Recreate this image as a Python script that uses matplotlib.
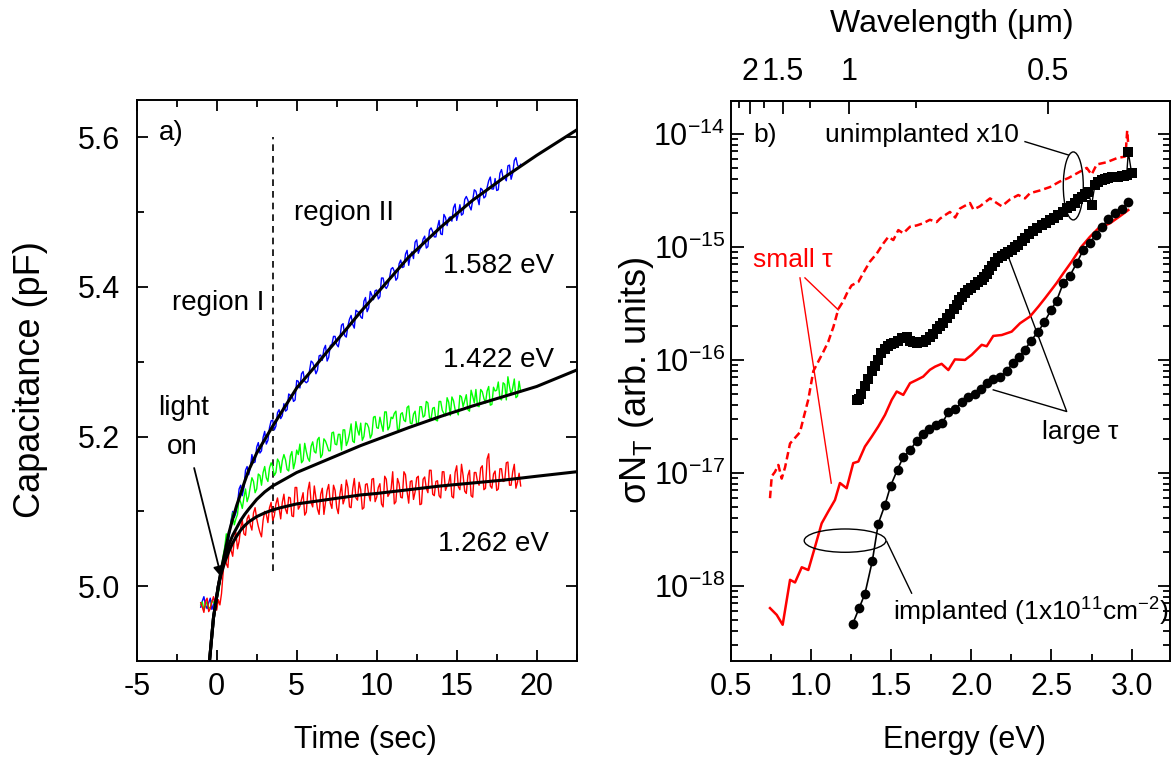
import numpy as np
import matplotlib
matplotlib.use("Agg")
import matplotlib.pyplot as plt
from matplotlib.patches import Ellipse
from matplotlib.ticker import MultipleLocator, FixedLocator, LogLocator, NullFormatter, FixedFormatter

plt.rcParams['font.family'] = ['Liberation Sans', 'DejaVu Sans']
plt.rcParams['mathtext.fontset'] = 'custom'
plt.rcParams['mathtext.rm'] = 'Liberation Sans'
plt.rcParams['mathtext.it'] = 'Liberation Sans:italic'
plt.rcParams['mathtext.bf'] = 'Liberation Sans:bold'
plt.rcParams['axes.unicode_minus'] = False

# ---------------- panel a) capacitance transients ----------------
t_start, t_step = -1.0, 0.1
cap_1582 = [4.972, 4.980, 4.986, 4.975, 4.970, 4.978, 4.984, 4.969, 4.976, 4.983,
            4.990, 4.992, 5.004, 5.018, 5.028, 5.048, 5.062, 5.058, 5.070, 5.088,
            5.100, 5.092, 5.098, 5.110, 5.130, 5.135, 5.121, 5.132, 5.155, 5.160,
            5.149, 5.158, 5.176, 5.165, 5.166, 5.186, 5.192, 5.178, 5.181, 5.199,
            5.207, 5.190, 5.195, 5.212, 5.221, 5.222, 5.209, 5.214, 5.232, 5.236,
            5.224, 5.228, 5.244, 5.234, 5.236, 5.257, 5.255, 5.256, 5.247, 5.249,
            5.275, 5.274, 5.265, 5.284, 5.287, 5.274, 5.272, 5.274, 5.288, 5.301,
            5.299, 5.293, 5.284, 5.289, 5.308, 5.309, 5.302, 5.317, 5.322, 5.301,
            5.306, 5.322, 5.323, 5.334, 5.334, 5.323, 5.320, 5.332, 5.349, 5.351,
            5.335, 5.333, 5.348, 5.357, 5.362, 5.350, 5.345, 5.369, 5.367, 5.366,
            5.360, 5.358, 5.381, 5.386, 5.367, 5.372, 5.394, 5.389, 5.383, 5.395,
            5.396, 5.384, 5.387, 5.412, 5.412, 5.401, 5.398, 5.402, 5.412, 5.424,
            5.426, 5.421, 5.409, 5.412, 5.431, 5.436, 5.426, 5.427, 5.444, 5.449,
            5.429, 5.442, 5.447, 5.438, 5.460, 5.463, 5.445, 5.451, 5.454, 5.464,
            5.468, 5.452, 5.454, 5.476, 5.479, 5.474, 5.467, 5.467, 5.480, 5.489,
            5.471, 5.470, 5.497, 5.493, 5.482, 5.492, 5.494, 5.488, 5.506, 5.511,
            5.489, 5.498, 5.510, 5.496, 5.498, 5.517, 5.521, 5.516, 5.508, 5.503,
            5.516, 5.530, 5.528, 5.519, 5.510, 5.532, 5.530, 5.519, 5.521, 5.533,
            5.542, 5.547, 5.531, 5.531, 5.545, 5.529, 5.530, 5.552, 5.557, 5.546,
            5.546, 5.542, 5.562, 5.563, 5.544, 5.552, 5.569, 5.573, 5.563, 5.560,
            5.564]
cap_1422 = [4.975, 4.979, 4.968, 4.974, 4.980, 4.970, 4.972, 4.981, 4.978, 4.976,
            4.983, 4.990, 5.003, 5.025, 5.040, 5.052, 5.070, 5.062, 5.072, 5.085,
            5.098, 5.082, 5.090, 5.096, 5.118, 5.112, 5.104, 5.118, 5.130, 5.113,
            5.120, 5.133, 5.145, 5.140, 5.125, 5.130, 5.150, 5.148, 5.135, 5.152,
            5.160, 5.145, 5.140, 5.158, 5.165, 5.160, 5.148, 5.152, 5.170, 5.166,
            5.152, 5.168, 5.176, 5.169, 5.156, 5.154, 5.174, 5.180, 5.157, 5.166,
            5.182, 5.176, 5.190, 5.165, 5.168, 5.191, 5.180, 5.171, 5.167, 5.187,
            5.193, 5.180, 5.178, 5.196, 5.199, 5.172, 5.176, 5.197, 5.194, 5.188,
            5.181, 5.181, 5.205, 5.206, 5.190, 5.189, 5.203, 5.203, 5.182, 5.209,
            5.209, 5.188, 5.194, 5.204, 5.217, 5.194, 5.192, 5.220, 5.209, 5.202,
            5.218, 5.195, 5.200, 5.218, 5.217, 5.212, 5.198, 5.203, 5.226, 5.227,
            5.212, 5.211, 5.226, 5.216, 5.207, 5.233, 5.233, 5.209, 5.213, 5.226,
            5.224, 5.231, 5.234, 5.209, 5.210, 5.230, 5.232, 5.222, 5.220, 5.239,
            5.241, 5.218, 5.217, 5.230, 5.234, 5.217, 5.217, 5.240, 5.240, 5.226,
            5.228, 5.247, 5.245, 5.225, 5.224, 5.238, 5.239, 5.222, 5.221, 5.247,
            5.247, 5.235, 5.231, 5.228, 5.252, 5.246, 5.228, 5.253, 5.248, 5.236,
            5.234, 5.229, 5.255, 5.253, 5.240, 5.248, 5.256, 5.236, 5.234, 5.262,
            5.254, 5.245, 5.263, 5.241, 5.240, 5.263, 5.260, 5.251, 5.245, 5.261,
            5.267, 5.242, 5.243, 5.266, 5.261, 5.262, 5.273, 5.251, 5.249, 5.272,
            5.270, 5.249, 5.280, 5.267, 5.256, 5.265, 5.277, 5.252, 5.254, 5.274,
            5.260]
cap_1262 = [4.978, 4.972, 4.965, 4.980, 4.984, 4.966, 4.970, 4.979, 4.986, 4.975,
            4.968, 4.982, 4.975, 4.990, 5.018, 5.045, 5.030, 5.025, 5.058, 5.048,
            5.040, 5.062, 5.072, 5.050, 5.060, 5.078, 5.088, 5.070, 5.068, 5.090,
            5.095, 5.082, 5.075, 5.098, 5.105, 5.090, 5.080, 5.072, 5.066, 5.088,
            5.100, 5.096, 5.085, 5.105, 5.112, 5.088, 5.094, 5.110, 5.118, 5.104,
            5.090, 5.112, 5.123, 5.103, 5.097, 5.119, 5.118, 5.094, 5.093, 5.132,
            5.132, 5.103, 5.107, 5.116, 5.125, 5.095, 5.099, 5.128, 5.139, 5.112,
            5.106, 5.134, 5.119, 5.103, 5.096, 5.123, 5.131, 5.096, 5.112, 5.128,
            5.136, 5.111, 5.104, 5.135, 5.128, 5.105, 5.097, 5.123, 5.136, 5.110,
            5.117, 5.142, 5.132, 5.106, 5.105, 5.130, 5.144, 5.118, 5.115, 5.139,
            5.129, 5.103, 5.105, 5.136, 5.137, 5.123, 5.114, 5.143, 5.144, 5.113,
            5.119, 5.132, 5.137, 5.110, 5.106, 5.147, 5.143, 5.120, 5.124, 5.130,
            5.153, 5.110, 5.113, 5.144, 5.137, 5.119, 5.118, 5.153, 5.149, 5.126,
            5.111, 5.140, 5.141, 5.116, 5.126, 5.145, 5.147, 5.109, 5.110, 5.143,
            5.146, 5.131, 5.125, 5.155, 5.155, 5.123, 5.121, 5.140, 5.141, 5.121,
            5.118, 5.153, 5.153, 5.128, 5.134, 5.138, 5.149, 5.120, 5.118, 5.152,
            5.161, 5.133, 5.129, 5.163, 5.148, 5.127, 5.124, 5.148, 5.155, 5.121,
            5.119, 5.152, 5.152, 5.140, 5.135, 5.158, 5.161, 5.129, 5.131, 5.170,
            5.177, 5.134, 5.131, 5.150, 5.154, 5.128, 5.130, 5.157, 5.157, 5.140,
            5.141, 5.165, 5.166, 5.135, 5.135, 5.153, 5.163, 5.131, 5.139, 5.151,
            5.134]

t_fit = [-0.45, -0.2, 0.1, 0.3, 0.5, 0.75, 1.0, 1.25, 1.5, 1.75, 2.0, 2.5, 3.0, 3.5, 4.0,
         5.0, 6.0, 7.0, 8.0, 9.0, 10.0, 12.0, 14.0, 16.0, 18.0, 20.0, 22.5]
fit_1582 = [4.900, 4.958, 5.000, 5.024, 5.044, 5.070, 5.090, 5.108, 5.124, 5.140, 5.155, 5.178, 5.196, 5.214,
            5.231, 5.265, 5.290, 5.316, 5.341, 5.367, 5.391, 5.440, 5.480, 5.516, 5.547, 5.576, 5.610]
fit_1422 = [4.900, 4.958, 5.000, 5.022, 5.038, 5.055, 5.068, 5.078, 5.088, 5.096, 5.103, 5.116, 5.126, 5.134,
            5.140, 5.152, 5.161, 5.170, 5.179, 5.188, 5.196, 5.212, 5.227, 5.241, 5.254, 5.267, 5.289]
fit_1262 = [4.900, 4.958, 5.000, 5.018, 5.032, 5.046, 5.058, 5.067, 5.075, 5.081, 5.086, 5.093, 5.098, 5.102,
            5.105, 5.110, 5.113, 5.116, 5.119, 5.122, 5.124, 5.129, 5.134, 5.138, 5.142, 5.147, 5.153]

t_switch = 3.5

# ---------------- panel b) photoionisation spectra ----------------
energy_small_unimpl = [0.745, 0.756, 0.776, 0.797, 0.818, 0.839, 0.870, 0.901, 0.932, 0.953, 0.984, 1.015,
                       1.046, 1.077, 1.108, 1.130, 1.140, 1.171, 1.202, 1.228, 1.254, 1.296, 1.327, 1.368,
                       1.410, 1.451, 1.483, 1.514, 1.545, 1.576, 1.618, 1.660, 1.700, 1.742, 1.784, 1.805,
                       1.836, 1.867, 1.900, 1.930, 1.992, 2.013, 2.054, 2.117, 2.158, 2.190, 2.241, 2.293,
                       2.335, 2.366, 2.428, 2.491, 2.553, 2.605, 2.657, 2.720, 2.750, 2.782, 2.844, 2.907,
                       2.958, 2.965, 2.972, 2.978]
sigma_small_unimpl = [5.97e-18, 9.33e-18, 1.02e-17, 1.175e-17, 8.9e-18, 1.12e-17, 1.82e-17, 2.04e-17,
                      2.29e-17, 3.02e-17, 4.47e-17, 7.94e-17, 9.66e-17, 1.175e-16, 1.445e-16, 1.78e-16,
                      1.95e-16, 2.82e-16, 3.31e-16, 3.98e-16, 4.57e-16, 4.9e-16, 5.89e-16, 7.41e-16,
                      8.71e-16, 1.07e-15, 1.23e-15, 1.15e-15, 1.41e-15, 1.32e-15, 1.51e-15, 1.55e-15,
                      1.62e-15, 1.74e-15, 1.66e-15, 1.78e-15, 1.91e-15, 2.04e-15, 1.82e-15, 2.19e-15,
                      2.45e-15, 2.14e-15, 2.29e-15, 2.69e-15, 2.45e-15, 2.29e-15, 2.63e-15, 2.88e-15,
                      2.69e-15, 2.99e-15, 3.16e-15, 3.39e-15, 3.80e-15, 4.07e-15, 4.47e-15, 5.01e-15,
                      4.37e-15, 5.37e-15, 5.62e-15, 6.10e-15, 6.31e-15, 7.59e-15, 1.07e-14, 8.32e-15]

energy_large_unimpl = [1.286, 1.300, 1.315, 1.337, 1.358, 1.379, 1.400, 1.420, 1.440, 1.462, 1.480, 1.500,
                       1.520, 1.545, 1.570, 1.597, 1.620, 1.638, 1.660, 1.680, 1.700, 1.720, 1.740, 1.760,
                       1.784, 1.805, 1.826, 1.847, 1.867, 1.890, 1.909, 1.925, 1.940, 1.960, 1.981, 2.000,
                       2.023, 2.045, 2.065, 2.080, 2.096, 2.110, 2.127, 2.148, 2.168, 2.190, 2.210, 2.230,
                       2.252, 2.270, 2.293, 2.315, 2.335, 2.360, 2.387, 2.410, 2.439, 2.465, 2.491, 2.515,
                       2.543, 2.570, 2.595, 2.620, 2.647, 2.668, 2.688, 2.710, 2.730, 2.750, 2.771, 2.790,
                       2.813, 2.834, 2.854, 2.875, 2.896, 2.917, 2.938, 2.955, 2.969, 2.979, 3.000]
sigma_large_unimpl = [4.43e-17, 4.47e-17, 5.01e-17, 5.89e-17, 6.76e-17, 7.94e-17, 8.91e-17, 1.00e-16,
                      1.15e-16, 1.26e-16, 1.32e-16, 1.38e-16, 1.41e-16, 1.48e-16, 1.55e-16, 1.58e-16,
                      1.48e-16, 1.45e-16, 1.41e-16, 1.45e-16, 1.45e-16, 1.51e-16, 1.58e-16, 1.70e-16,
                      1.86e-16, 2.00e-16, 2.11e-16, 2.34e-16, 2.57e-16, 2.82e-16, 3.09e-16, 3.39e-16,
                      3.63e-16, 3.89e-16, 4.17e-16, 4.37e-16, 4.57e-16, 4.90e-16, 5.13e-16, 5.37e-16,
                      5.75e-16, 6.31e-16, 6.76e-16, 7.41e-16, 7.94e-16, 8.32e-16, 8.71e-16, 9.02e-16,
                      9.33e-16, 1.00e-15, 1.05e-15, 1.12e-15, 1.20e-15, 1.29e-15, 1.38e-15, 1.46e-15,
                      1.55e-15, 1.64e-15, 1.74e-15, 1.82e-15, 1.91e-15, 2.04e-15, 2.19e-15, 2.32e-15,
                      2.45e-15, 2.63e-15, 2.79e-15, 2.95e-15, 3.09e-15, 2.34e-15, 3.55e-15, 3.72e-15,
                      3.89e-15, 3.98e-15, 4.07e-15, 4.12e-15, 4.17e-15, 4.17e-15, 4.22e-15, 4.27e-15,
                      4.37e-15, 6.92e-15, 4.47e-15]

energy_small_impl = [0.745, 0.787, 0.824, 0.870, 0.901, 0.943, 0.984, 1.026, 1.067, 1.108, 1.150, 1.181,
                     1.223, 1.264, 1.296, 1.337, 1.379, 1.420, 1.462, 1.504, 1.535, 1.576, 1.618, 1.660,
                     1.700, 1.742, 1.774, 1.815, 1.857, 1.898, 1.961, 2.003, 2.065, 2.096, 2.137, 2.190,
                     2.252, 2.304, 2.366, 2.418, 2.460, 2.532, 2.574, 2.626, 2.688, 2.740, 2.792, 2.865,
                     2.938, 2.979]
sigma_small_impl = [6.35e-19, 5.53e-19, 4.52e-19, 1.13e-18, 1.07e-18, 1.46e-18, 1.38e-18, 2.22e-18,
                    3.57e-18, 4.54e-18, 5.75e-18, 8.13e-18, 7.31e-18, 1.22e-17, 1.26e-17, 1.71e-17,
                    2.09e-17, 2.57e-17, 3.26e-17, 4.43e-17, 5.25e-17, 4.90e-17, 6.22e-17, 6.65e-17,
                    7.11e-17, 8.17e-17, 8.71e-17, 9.23e-17, 8.13e-17, 1.01e-16, 1.00e-16, 1.11e-16,
                    1.36e-16, 1.32e-16, 1.63e-16, 1.66e-16, 1.78e-16, 2.11e-16, 2.42e-16, 2.96e-16,
                    3.52e-16, 4.79e-16, 5.85e-16, 7.41e-16, 1.01e-15, 1.23e-15, 1.46e-15, 1.62e-15,
                    1.92e-15, 2.12e-15]

energy_large_impl = [1.260, 1.300, 1.337, 1.383, 1.420, 1.462, 1.497, 1.540, 1.576, 1.618, 1.660, 1.697,
                     1.738, 1.780, 1.820, 1.857, 1.898, 1.940, 1.981, 2.021, 2.062, 2.100, 2.137, 2.179,
                     2.220, 2.258, 2.297, 2.335, 2.372, 2.418, 2.455, 2.497, 2.532, 2.574, 2.615, 2.657,
                     2.698, 2.740, 2.777, 2.817, 2.854, 2.896, 2.938, 2.979]
sigma_large_impl = [4.57e-19, 6.31e-19, 8.51e-19, 1.66e-18, 3.55e-18, 5.21e-18, 7.67e-18, 1.07e-17,
                    1.38e-17, 1.58e-17, 1.93e-17, 2.19e-17, 2.43e-17, 2.64e-17, 2.79e-17, 3.43e-17,
                    3.67e-17, 4.22e-17, 4.73e-17, 5.01e-17, 5.50e-17, 6.19e-17, 6.76e-17, 7.11e-17,
                    7.94e-17, 9.33e-17, 1.06e-16, 1.23e-16, 1.48e-16, 1.78e-16, 2.16e-16, 2.75e-16,
                    3.35e-16, 4.79e-16, 5.57e-16, 7.18e-16, 9.40e-16, 1.09e-15, 1.28e-15, 1.51e-15,
                    1.76e-15, 2.00e-15, 2.16e-15, 2.51e-15]

wl_major = [2.0, 1.5, 1.0, 0.5]
wl_labels = ['2', '1.5', '1', '0.5']
wl_minor = [2.25, 1.75, 1.25, 0.75]
hc = 1.24  # eV * um

TICK_FS = 22
XLABEL_FS = 22
TOPLABEL_FS = 23
YLABEL_FS = 26
NOTE_A = 20
NOTE_B = 19

W, H = 1171, 758
fig = plt.figure(figsize=(W / 100, H / 100), dpi=100)


def fx(px):
    return px / W


def fy(py):
    return 1 - py / H


ax1 = fig.add_axes([fx(136.7), fy(661), fx(576.7) - fx(136.7), fy(100) - fy(661)])
ax2 = fig.add_axes([fx(730.7), fy(661), fx(1170) - fx(730.7), fy(100.7) - fy(661)])

for ax in (ax1, ax2):
    for s in ax.spines.values():
        s.set_linewidth(1.4)

# --- panel a
ax1.plot(t_start + t_step * np.arange(len(cap_1582)), cap_1582, color='#0000ff', lw=1.0, zorder=2)
ax1.plot(t_start + t_step * np.arange(len(cap_1422)), cap_1422, color='#00ff00', lw=1.0, zorder=2)
ax1.plot(t_start + t_step * np.arange(len(cap_1262)), cap_1262, color='#ff0000', lw=1.0, zorder=3)
for fit in (fit_1582, fit_1422, fit_1262):
    ax1.plot(t_fit, fit, color='black', lw=2.2, zorder=4)
ax1.plot([t_switch, t_switch], [5.02, 5.60], color='black', lw=1.2, ls=(0, (4, 3)), zorder=1)

ax1.set_xlim(-5, 22.5)
ax1.set_ylim(4.9, 5.65)
ax1.xaxis.set_major_locator(MultipleLocator(5))
ax1.xaxis.set_minor_locator(MultipleLocator(2.5))
ax1.yaxis.set_major_locator(FixedLocator([5.0, 5.2, 5.4, 5.6]))
ax1.yaxis.set_minor_locator(FixedLocator([5.1, 5.3, 5.5]))
ax1.yaxis.set_major_formatter(FixedFormatter(['5.0', '5.2', '5.4', '5.6']))
ax1.tick_params(which='both', direction='in', top=True, right=True, width=1.3, labelsize=TICK_FS)
ax1.tick_params(which='major', length=8)
ax1.tick_params(which='minor', length=5)
ax1.tick_params(axis='y', pad=12)
ax1.tick_params(axis='x', pad=8)

ax1.text(-3.6, 5.606, 'a)', fontsize=NOTE_A, va='center', ha='left')
ax1.text(-2.82, 5.378, 'region I', fontsize=NOTE_A, va='center', ha='left')
ax1.text(4.82, 5.499, 'region II', fontsize=NOTE_A, va='center', ha='left')
ax1.text(14.17, 5.4275, '1.582 eV', fontsize=NOTE_A, va='center', ha='left')
ax1.text(14.17, 5.303, '1.422 eV', fontsize=NOTE_A, va='center', ha='left')
ax1.text(13.86, 5.057, '1.262 eV', fontsize=NOTE_A, va='center', ha='left')
ax1.text(-2.1, 5.238, 'light', fontsize=NOTE_A, va='center', ha='center')
ax1.text(-2.16, 5.186, 'on', fontsize=NOTE_A, va='center', ha='center')
ax1.annotate('', xy=(0.29, 5.012), xytext=(-1.41, 5.158),
             arrowprops=dict(arrowstyle='-|>', color='black', lw=1.3, mutation_scale=16,
                             shrinkA=0, shrinkB=0), zorder=6)

fig.text(fx(31), fy(380), 'Capacitance (pF)', rotation=90, ha='center', va='center', fontsize=YLABEL_FS)
fig.text(fx(365), fy(740), 'Time (sec)', ha='center', va='center', fontsize=XLABEL_FS)

# --- panel b
ax2.set_yscale('log')
ax2.plot(energy_small_unimpl, sigma_small_unimpl, color='#ff0000', lw=1.8, ls=(0, (3, 1.6)), zorder=3)
ax2.plot(energy_large_unimpl, sigma_large_unimpl, color='black', lw=1.0, marker='s', ms=7.5,
         markeredgewidth=0, zorder=4)
ax2.plot(energy_small_impl, sigma_small_impl, color='#ff0000', lw=1.8, zorder=3)
ax2.plot(energy_large_impl, sigma_large_impl, color='black', lw=1.2, marker='o', ms=7,
         markeredgewidth=0, zorder=4)

ax2.set_xlim(0.5, 3.239)
ax2.set_ylim(2.16e-19, 1.97e-14)
ax2.xaxis.set_major_locator(FixedLocator([0.5, 1.0, 1.5, 2.0, 2.5, 3.0]))
ax2.xaxis.set_major_formatter(FixedFormatter(['0.5', '1.0', '1.5', '2.0', '2.5', '3.0']))
ax2.xaxis.set_minor_locator(MultipleLocator(0.25))
ax2.yaxis.set_major_locator(FixedLocator([1e-18, 1e-17, 1e-16, 1e-15, 1e-14]))
ax2.yaxis.set_major_formatter(FixedFormatter([r'$\mathregular{10^{-18}}$', r'$\mathregular{10^{-17}}$',
                                              r'$\mathregular{10^{-16}}$', r'$\mathregular{10^{-15}}$',
                                              r'$\mathregular{10^{-14}}$']))
ax2.yaxis.set_minor_locator(LogLocator(base=10, subs=np.arange(2, 10), numticks=50))
ax2.yaxis.set_minor_formatter(NullFormatter())
ax2.tick_params(which='both', direction='in', top=False, right=True, width=1.3, labelsize=TICK_FS)
ax2.tick_params(which='major', length=9)
ax2.tick_params(which='minor', length=5)
ax2.tick_params(axis='y', pad=4)
ax2.tick_params(axis='x', pad=8)

secax = ax2.secondary_xaxis('top', functions=(lambda e: hc / np.maximum(e, 1e-6),
                                              lambda w: hc / np.maximum(w, 1e-6)))
secax.xaxis.set_major_locator(FixedLocator(wl_major))
secax.xaxis.set_major_formatter(FixedFormatter(wl_labels))
secax.xaxis.set_minor_locator(FixedLocator(wl_minor))
secax.tick_params(which='both', direction='in', width=1.3, labelsize=TICK_FS, pad=10)
secax.tick_params(which='major', length=9)
secax.tick_params(which='minor', length=5)
secax.spines['top'].set_linewidth(1.4)

fig.text(fx(636), fy(380), r'σN$_\mathregular{T}$ (arb. units)', rotation=90, ha='center', va='center',
         fontsize=YLABEL_FS)
fig.text(fx(964), fy(740), 'Energy (eV)', ha='center', va='center', fontsize=XLABEL_FS)
fig.text(fx(951.7), fy(24), 'Wavelength (μm)', ha='center', va='center', fontsize=TOPLABEL_FS)

ax2.text(0.639, 9.8e-15, 'b)', fontsize=NOTE_B, va='center', ha='left')
ax2.text(1.088, 9.8e-15, 'unimplanted x10', fontsize=NOTE_B, va='center', ha='left')
ax2.text(0.641, 7.67e-16, 'small τ', fontsize=NOTE_B, va='center', ha='left', color='#ff0000')
ax2.text(2.439, 2.32e-17, 'large τ', fontsize=NOTE_B, va='center', ha='left')
ax2.text(1.514, 5.89e-19, r'implanted (1x10$^\mathregular{11}$cm$^\mathregular{-2}$)', fontsize=NOTE_B,
         va='center', ha='left')

# leader lines
ax2.plot([2.335, 2.605], [8.55e-15, 6.52e-15], color='black', lw=1.0)
ax2.plot([0.963, 1.171], [5.32e-16, 2.77e-16], color='#ff0000', lw=1.0)
ax2.plot([0.932, 1.127], [5.32e-16, 8.11e-18], color='#ff0000', lw=1.0)
ax2.plot([2.231, 2.595, 2.137], [8.2e-16, 3.49e-17, 5.43e-17], color='black', lw=1.0)
ax2.plot([1.473, 1.628], [2.47e-18, 8.61e-19], color='black', lw=1.0)


def axes_frac(ax, x, y):
    return ax.transAxes.inverted().transform(ax.transData.transform((x, y)))


ax_w = 1170 - 730.7
ax_h = 661 - 100.7
c1 = axes_frac(ax2, 2.636, 10 ** -14.46)
ax2.add_patch(Ellipse(c1, 20 / ax_w, 68 / ax_h, transform=ax2.transAxes, fill=False,
                      edgecolor='black', lw=1.0, zorder=5))
c2 = axes_frac(ax2, 1.213, 10 ** -17.6)
ax2.add_patch(Ellipse(c2, 81.7 / ax_w, 23.3 / ax_h, transform=ax2.transAxes, fill=False,
                      edgecolor='black', lw=1.0, zorder=5))

fig.savefig('out.png', dpi=100)
